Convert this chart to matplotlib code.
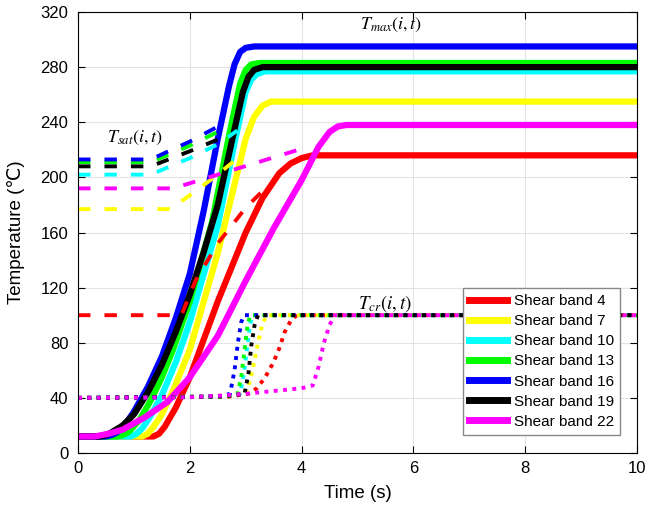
import numpy as np
import matplotlib.pyplot as plt

plt.rcParams['font.family'] = ['Liberation Sans', 'DejaVu Sans']
plt.rcParams['mathtext.fontset'] = 'stix'

bands = ['Shear band 4', 'Shear band 7', 'Shear band 10', 'Shear band 13',
         'Shear band 16', 'Shear band 19', 'Shear band 22']
colors = ['#ff0000', '#ffff00', '#00ffff', '#00ff00', '#0000ff', '#000000', '#ff00ff']

# T_max(i,t): temperature in each shear band
t_red = [0, 1.35, 1.45, 1.55, 1.75, 2.0, 2.5, 3.0, 3.3, 3.6, 3.8, 4.0, 4.2, 10]
T_red = [12, 12, 14, 19, 33, 55, 110, 160, 185, 203, 210, 214, 216, 216]
t_yel = [0, 1.15, 1.25, 1.35, 1.5, 1.7, 2.0, 2.5, 2.8, 3.0, 3.15, 3.3, 3.45, 10]
T_yel = [12, 12, 14, 19, 28, 45, 75, 145, 195, 228, 244, 252, 255, 255]
t_cya = [0, 0.95, 1.05, 1.15, 1.3, 1.5, 1.75, 2.0, 2.5, 2.8, 3.0, 3.1, 3.2, 3.35, 10]
T_cya = [12, 12, 14, 18, 27, 42, 66, 95, 165, 225, 262, 271, 275, 277, 277]
t_gre = [0, 0.7, 0.8, 0.9, 1.1, 1.3, 1.5, 1.7, 2.0, 2.4, 2.7, 2.9, 3.0, 3.1, 3.25, 10]
T_gre = [12, 12, 13, 15, 24, 38, 55, 75, 110, 168, 230, 268, 278, 282, 283, 283]
t_blu = [0, 0.5, 0.6, 0.7, 0.85, 1.0, 1.25, 1.5, 1.75, 2.0, 2.25, 2.5, 2.7, 2.8, 2.9, 3.0, 3.15, 10]
T_blu = [12, 12, 13, 15, 21, 30, 48, 70, 98, 130, 176, 228, 266, 282, 291, 294, 295, 295]
t_bla = [0, 0.4, 0.5, 0.6, 0.8, 1.0, 1.25, 1.5, 1.75, 2.0, 2.25, 2.5, 2.8, 2.95, 3.05, 3.15, 3.3, 10]
T_bla = [12, 12, 13, 15, 20, 28, 44, 64, 88, 115, 146, 180, 235, 262, 273, 278, 280, 280]
t_mag = [0, 0.3, 0.55, 0.8, 1.2, 1.6, 2.0, 2.5, 3.0, 3.5, 4.0, 4.3, 4.5, 4.65, 4.8, 10]
T_mag = [12, 12, 14, 17, 26, 37, 55, 85, 125, 163, 198, 222, 233, 237, 238, 238]

# T_sat(i,t): dashed
ts_red = [0, 1.85, 2.1, 2.5, 3.0, 3.3]
Ts_red = [100, 100, 125, 152, 178, 190]
ts_yel = [0, 1.65, 2.0, 2.4, 2.8]
Ts_yel = [177, 177, 187, 199, 212]
ts_cya = [0, 1.3, 2.0, 2.5, 2.85]
Ts_cya = [202, 202, 214, 224, 234]
ts_gre = [0, 1.3, 2.0, 2.55]
Ts_gre = [211, 211, 223, 234]
ts_blu = [0, 1.3, 2.0, 2.6]
Ts_blu = [213, 213, 226, 239]
ts_bla = [0, 1.3, 2.0, 2.65]
Ts_bla = [208, 208, 219, 230]
ts_mag = [0, 1.7, 2.5, 3.3, 4.1]
Ts_mag = [192, 192, 202, 212, 222]

# T_cr(i,t): dotted
tc_red = [0, 2.7, 3.05, 3.2, 3.35, 3.5, 3.6, 3.7, 3.82, 3.92, 10]
Tc_red = [40, 41, 43, 47, 55, 66, 76, 88, 97, 100, 100]
tc_yel = [0, 2.6, 3.02, 3.12, 3.22, 3.3, 3.38, 10]
Tc_yel = [40, 41, 43.5, 60, 80, 94, 100, 100]
tc_cya = [0, 2.5, 2.9, 2.97, 3.03, 3.08, 3.13, 10]
Tc_cya = [40, 41, 43, 58, 78, 94, 100, 100]
tc_gre = [0, 2.5, 2.85, 2.92, 2.98, 3.03, 3.08, 10]
Tc_gre = [40, 41, 42.5, 55, 75, 92, 100, 100]
tc_blu = [0, 2.0, 2.6, 2.72, 2.8, 2.86, 2.92, 2.97, 10]
Tc_blu = [40, 40.5, 41.5, 43, 60, 80, 95, 100, 100]
tc_bla = [0, 2.6, 2.98, 3.05, 3.1, 3.16, 3.22, 10]
Tc_bla = [40, 41, 43, 58, 78, 93, 100, 100]
tc_mag = [0, 2.0, 2.5, 3.0, 3.5, 4.0, 4.2, 4.3, 4.4, 4.5, 4.6, 10]
Tc_mag = [40, 40.5, 41.5, 43, 45, 47, 49, 62, 80, 93, 100, 100]

T_solid = [(t_red, T_red), (t_yel, T_yel), (t_cya, T_cya), (t_gre, T_gre),
           (t_blu, T_blu), (t_bla, T_bla), (t_mag, T_mag)]
T_dash = [(ts_red, Ts_red), (ts_yel, Ts_yel), (ts_cya, Ts_cya), (ts_gre, Ts_gre),
          (ts_blu, Ts_blu), (ts_bla, Ts_bla), (ts_mag, Ts_mag)]
T_dot = [(tc_red, Tc_red), (tc_yel, Tc_yel), (tc_cya, Tc_cya), (tc_gre, Tc_gre),
         (tc_blu, Tc_blu), (tc_bla, Tc_bla), (tc_mag, Tc_mag)]

fig = plt.figure(figsize=(6.48, 5.11), dpi=100)
ax = fig.add_axes([0.1204, 0.1135, 0.8626, 0.863])

for (t, T), c, lab in zip(T_solid, colors, bands):
    ax.plot(t, T, color=c, lw=4.5, label=lab, solid_joinstyle='round')
for (t, T), c in zip(T_dash, colors):
    ax.plot(t, T, color=c, lw=2.8, ls=(0, (3.2, 3.6)))
for (t, T), c in zip(T_dot, colors):
    ax.plot(t, T, color=c, lw=2.8, ls=(0, (1, 1.4)))

ax.text(5.05, 308, r'$T_{max}(i,t)$', fontsize=13)
ax.text(0.52, 226, r'$T_{sat}(i,t)$', fontsize=13)
ax.text(5.0, 105, r'$T_{cr}(i,t)$', fontsize=13.5)

ax.set_xlim(0, 10)
ax.set_ylim(0, 320)
ax.set_xticks(np.arange(0, 11, 2))
ax.set_yticks(np.arange(0, 321, 40))
ax.tick_params(direction='in', top=True, right=True, labelsize=12, length=5)
ax.tick_params(axis='x', pad=6)
ax.tick_params(axis='y', pad=7)
ax.grid(True, color='#e3e3e3', lw=0.8)
ax.set_axisbelow(True)
ax.set_xlabel('Time (s)', fontsize=13.5, labelpad=6)
ax.set_ylabel('Temperature (\u2103)', fontsize=13.5, labelpad=11)

leg = ax.legend(loc='lower right', bbox_to_anchor=(0.9696, 0.041), borderaxespad=0,
                fontsize=11, fancybox=False, edgecolor='#888888', framealpha=1,
                handlelength=2.5, handletextpad=0.45, borderpad=0.4, labelspacing=0.4)
for h in leg.get_lines():
    h.set_linewidth(5)

fig.savefig('out.png', dpi=100)
